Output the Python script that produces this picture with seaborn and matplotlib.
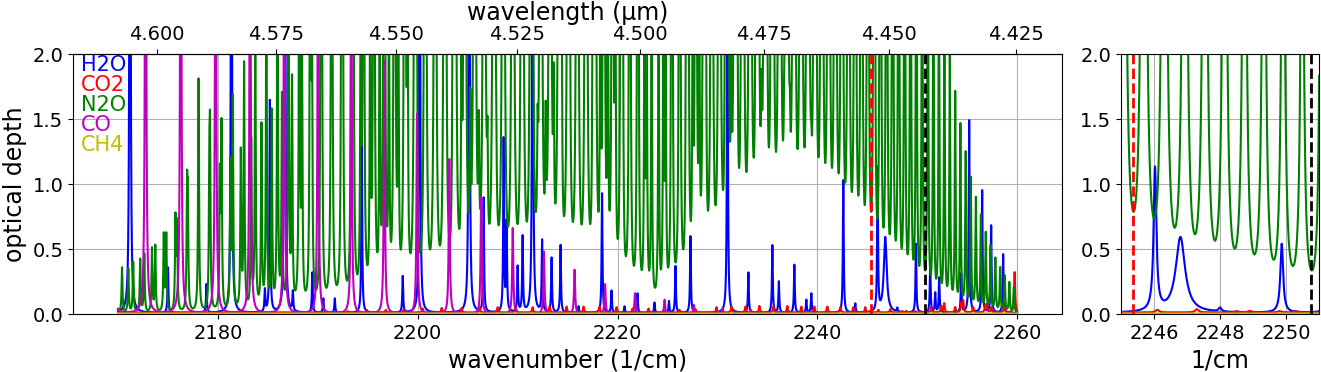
import numpy as np
import pandas as pd
import matplotlib
matplotlib.use('Agg')
import matplotlib.pyplot as plt
from matplotlib.ticker import FormatStrFormatter
import seaborn as sns

# line lists: line centre (1/cm) and peak optical depth
# N2O nu3 band, P branch (J=1..53) and R branch (J=0..55)
n2o_p_centre = [2222.92, 2222.07, 2221.22, 2220.36, 2219.50, 2218.63, 2217.75, 2216.86, 2215.97, 2215.07,
                2214.16, 2213.25, 2212.32, 2211.40, 2210.46, 2209.52, 2208.57, 2207.62, 2206.65, 2205.69,
                2204.71, 2203.73, 2202.74, 2201.74, 2200.74, 2199.73, 2198.71, 2197.68, 2196.65, 2195.61,
                2194.57, 2193.52, 2192.46, 2191.39, 2190.32, 2189.24, 2188.15, 2187.06, 2185.96, 2184.85,
                2183.74, 2182.62, 2181.49, 2180.36, 2179.21, 2178.06, 2176.91, 2175.75, 2174.58, 2173.40,
                2172.22, 2171.03, 2169.83]
n2o_p_peak = [2.26, 4.48, 6.62, 8.69, 10.66, 12.46, 14.14, 15.65, 16.96, 18.10,
              19.02, 19.78, 20.32, 20.66, 20.83, 20.82, 20.64, 20.30, 19.84, 19.25,
              18.31, 17.32, 16.28, 15.20, 14.12, 13.02, 11.96, 10.92, 9.91, 8.93,
              8.03, 7.17, 6.37, 5.62, 4.94, 4.36, 3.81, 3.34, 2.90, 2.50,
              2.18, 1.88, 1.61, 1.38, 1.18, 1.00, 0.84, 0.70, 0.59, 0.49,
              0.41, 0.34, 0.28]
n2o_r_centre = [2224.59, 2225.41, 2226.23, 2227.04, 2227.84, 2228.64, 2229.43, 2230.21, 2230.99, 2231.76,
                2232.52, 2233.28, 2234.02, 2234.77, 2235.50, 2236.23, 2236.95, 2237.66, 2238.37, 2239.07,
                2239.76, 2240.45, 2241.13, 2241.80, 2242.46, 2243.12, 2243.78, 2244.42, 2245.06, 2245.69,
                2246.31, 2246.93, 2247.54, 2248.14, 2248.74, 2249.33, 2249.91, 2250.49, 2251.06, 2251.62,
                2252.17, 2252.72, 2253.26, 2253.80, 2254.32, 2254.85, 2255.36, 2255.87, 2256.37, 2256.86,
                2257.34, 2257.82, 2258.30, 2258.76, 2259.22, 2259.67]
n2o_r_peak = [2.26, 4.51, 6.70, 8.83, 10.86, 12.78, 14.54, 16.16, 17.60, 18.85,
              19.90, 20.77, 21.42, 21.87, 22.14, 22.22, 22.11, 21.86, 21.42, 20.88,
              20.21, 19.20, 18.11, 16.99, 15.84, 14.69, 13.53, 12.40, 11.30, 10.25,
              9.24, 8.28, 7.40, 6.55, 5.79, 5.08, 4.48, 3.92, 3.43, 2.97,
              2.56, 2.23, 1.93, 1.65, 1.41, 1.20, 1.01, 0.86, 0.73, 0.60,
              0.50, 0.41, 0.34, 0.28, 0.23, 0.19]
# N2O hot band (nu2+nu3 <- nu2)
n2o_hot_p_centre = [2207.84, 2206.98, 2206.12, 2205.25, 2204.38, 2203.50, 2202.61, 2201.71, 2200.81, 2199.90,
                    2198.98, 2198.06, 2197.12, 2196.19, 2195.24, 2194.29, 2193.33, 2192.36, 2191.38, 2190.40,
                    2189.41, 2188.42, 2187.42, 2186.41, 2185.39, 2184.36, 2183.33, 2182.29, 2181.25, 2180.20,
                    2179.14, 2178.07, 2176.99, 2175.91, 2174.83, 2173.73, 2172.63, 2171.52, 2170.40]
n2o_hot_p_peak = [0.48, 0.71, 0.93, 1.14, 1.34, 1.52, 1.67, 1.82, 1.94, 2.04,
                  2.12, 2.18, 2.21, 2.22, 2.22, 2.21, 2.18, 2.12, 2.06, 1.98,
                  1.91, 1.80, 1.71, 1.61, 1.50, 1.40, 1.29, 1.20, 1.10, 0.99,
                  0.90, 0.81, 0.74, 0.65, 0.59, 0.51, 0.45, 0.39, 0.35]
n2o_hot_r_centre = [2210.35, 2211.18, 2212.00, 2212.81, 2213.61, 2214.41, 2215.20, 2215.98, 2216.75, 2217.52,
                    2218.28, 2219.03, 2219.78, 2220.52, 2221.25, 2221.98, 2222.70, 2223.41, 2224.11, 2224.81,
                    2225.50, 2226.18, 2226.86, 2227.52, 2228.19, 2228.84, 2229.49, 2230.13, 2230.76, 2231.38,
                    2232.00, 2232.61, 2233.22, 2233.82, 2234.41, 2234.99, 2235.56, 2236.13, 2236.69, 2237.25,
                    2237.80, 2238.34, 2238.87, 2239.39, 2239.91]
n2o_hot_r_peak = [0.24, 0.48, 0.72, 0.95, 1.16, 1.37, 1.56, 1.73, 1.88, 2.01,
                  2.13, 2.22, 2.30, 2.34, 2.37, 2.37, 2.37, 2.34, 2.30, 2.24,
                  2.16, 2.09, 1.98, 1.89, 1.79, 1.68, 1.56, 1.46, 1.34, 1.23,
                  1.13, 1.02, 0.93, 0.84, 0.75, 0.68, 0.60, 0.53, 0.47, 0.41,
                  0.35, 0.30, 0.27, 0.23, 0.20]
n2o_hwhm = 0.055

# CO fundamental, R(7)..R(28)
co_centre = [2169.20, 2172.76, 2176.28, 2179.77, 2183.22, 2186.64, 2190.02, 2193.36, 2196.66, 2199.93, 2203.16,
             2206.35, 2209.51, 2212.63, 2215.70, 2218.75, 2221.75, 2224.71, 2227.64, 2230.52, 2233.37, 2236.18]
co_peak = [5.44, 5.27, 4.95, 4.52, 4.02, 3.48, 2.94, 2.42, 1.95, 1.54, 1.19,
           0.90, 0.66, 0.48, 0.34, 0.23, 0.16, 0.11, 0.07, 0.044, 0.028, 0.017]
co_hwhm = 0.065

# H2O lines
h2o_centre = [2171.20, 2175.00, 2178.85, 2181.35, 2184.70, 2185.20, 2186.70, 2187.50, 2189.45, 2190.55,
              2191.70, 2194.40, 2198.50, 2200.20, 2205.15, 2206.60, 2208.60, 2208.90, 2210.00, 2210.50,
              2211.50, 2212.45, 2213.40, 2214.30, 2216.10, 2218.45, 2219.40, 2220.70, 2222.00, 2223.70,
              2225.15, 2225.80, 2227.30, 2231.00, 2233.10, 2235.50, 2236.15, 2237.70, 2238.90, 2239.40,
              2242.60, 2243.80, 2246.03, 2248.00, 2249.87, 2251.30, 2251.80, 2252.20, 2254.40, 2255.20,
              2256.50, 2257.40, 2258.60]
h2o_peak = [8.0, 0.35, 0.22, 6.0, 0.17, 1.63, 6.0, 0.15, 0.31, 0.11,
            0.11, 1.38, 0.28, 5.0, 6.0, 0.88, 1.33, 0.68, 0.35, 0.58,
            5.0, 0.55, 0.42, 0.52, 0.05, 0.92, 0.17, 0.05, 0.15, 0.08,
            0.09, 0.36, 0.59, 3.0, 0.31, 0.52, 0.24, 0.37, 0.10, 0.15,
            1.02, 0.07, 1.10, 0.03, 0.53, 0.38, 0.15, 0.27, 0.30, 1.48,
            0.94, 0.67, 0.45]
h2o_hwhm = 0.05
h2o_broad_centre = [2246.80]
h2o_broad_peak = [0.58]
h2o_broad_hwhm = 0.17
h2o_base = 0.008

# CO2 lines
co2_centre = [2193.0, 2194.9, 2196.8, 2198.6, 2200.5, 2202.4, 2204.4, 2206.2, 2208.0, 2209.8,
              2211.5, 2213.2, 2214.9, 2216.6, 2218.2, 2219.9, 2221.5, 2223.1, 2224.6, 2226.2,
              2227.8, 2229.9, 2231.4, 2232.8, 2234.2, 2235.6, 2237.0, 2238.4, 2239.7, 2241.0,
              2242.3, 2243.6, 2244.8, 2246.1, 2247.3, 2248.5, 2248.9, 2249.8, 2250.3, 2251.4,
              2252.4, 2252.7, 2253.8, 2254.4, 2254.6, 2255.6, 2256.8, 2256.95, 2257.4, 2258.7,
              2259.75]
co2_peak = [0.01, 0.02, 0.02, 0.025, 0.03, 0.035, 0.035, 0.04, 0.04, 0.045,
            0.04, 0.045, 0.045, 0.045, 0.045, 0.04, 0.03, 0.03, 0.02, 0.02,
            0.025, 0.04, 0.045, 0.045, 0.05, 0.045, 0.05, 0.045, 0.045, 0.045,
            0.04, 0.04, 0.04, 0.02, 0.025, 0.01, 0.012, 0.01, 0.01, 0.04,
            0.05, 0.07, 0.04, 0.07, 0.09, 0.04, 0.05, 0.06, 0.04, 0.05,
            0.31]
co2_hwhm = 0.06
co2_base = 0.012

ch4_base = 0.004

gases = ['H2O', 'CO2', 'N2O', 'CO', 'CH4']
colors = {'H2O': 'b', 'CO2': 'r', 'N2O': 'g', 'CO': 'm', 'CH4': 'y'}
red_line = 2245.35
black_line = 2250.75

wn = np.linspace(2170, 2260, 18001)


def depth(centres, peaks, hwhm, base=0.0):
    c = np.asarray(centres)[:, None]
    p = np.asarray(peaks)[:, None]
    return base + (p * hwhm**2 / ((wn[None, :] - c)**2 + hwhm**2)).sum(axis=0)


tau = {
    'H2O': depth(h2o_centre, h2o_peak, h2o_hwhm, h2o_base)
           + depth(h2o_broad_centre, h2o_broad_peak, h2o_broad_hwhm),
    'CO2': depth(co2_centre, co2_peak, co2_hwhm, co2_base),
    'N2O': depth(n2o_p_centre + n2o_r_centre + n2o_hot_p_centre + n2o_hot_r_centre,
                 n2o_p_peak + n2o_r_peak + n2o_hot_p_peak + n2o_hot_r_peak, n2o_hwhm),
    'CO': depth(co_centre, co_peak, co_hwhm),
    'CH4': np.full_like(wn, ch4_base),
}
spec = pd.concat([pd.DataFrame({'wavenumber': wn, 'depth': tau[g], 'gas': g}) for g in gases])

fig = plt.figure(figsize=(13.21, 3.72), dpi=100)
ax = fig.add_axes([0.0553, 0.1559, 0.7487, 0.6989])
ax2 = fig.add_axes([0.8486, 0.1559, 0.1499, 0.6989])

for a, show in ((ax, True), (ax2, False)):
    for g in gases:
        sns.lineplot(data=spec[spec.gas == g], x='wavenumber', y='depth', color=colors[g],
                     label=g if show else None, legend=show, estimator=None, errorbar=None,
                     linewidth=1.5, ax=a)
    a.axvline(red_line, color='r', ls='--', lw=2)
    a.axvline(black_line, color='k', ls='--', lw=2)
    a.set_ylim(0, 2)
    a.set_yticks([0, 0.5, 1.0, 1.5, 2.0])
    a.grid(True)
    a.tick_params(labelsize=14)
    a.set_ylabel('')

ax.set_xlim(2165.5, 2264.5)
ax.set_xlabel('wavenumber (1/cm)', fontsize=17)
ax.set_ylabel('optical depth', fontsize=17)

top = ax.secondary_xaxis('top', functions=(lambda x: 1e4 / x, lambda x: 1e4 / x))
top.set_xticks([4.425, 4.45, 4.475, 4.5, 4.525, 4.55, 4.575, 4.6])
top.xaxis.set_major_formatter(FormatStrFormatter('%.3f'))
top.tick_params(labelsize=14)
top.set_xlabel('wavelength (µm)', fontsize=17)

ax2.set_xlim(2245, 2251)
ax2.set_xticks([2246, 2248, 2250])
ax2.set_xlabel('1/cm', fontsize=17)

ax.legend(loc='upper left', bbox_to_anchor=(0.008, 0.995), frameon=False, handlelength=0,
          handletextpad=0, borderpad=0, borderaxespad=0, labelspacing=0,
          labelcolor='linecolor', fontsize=15)

fig.savefig('out.png', dpi=100)
